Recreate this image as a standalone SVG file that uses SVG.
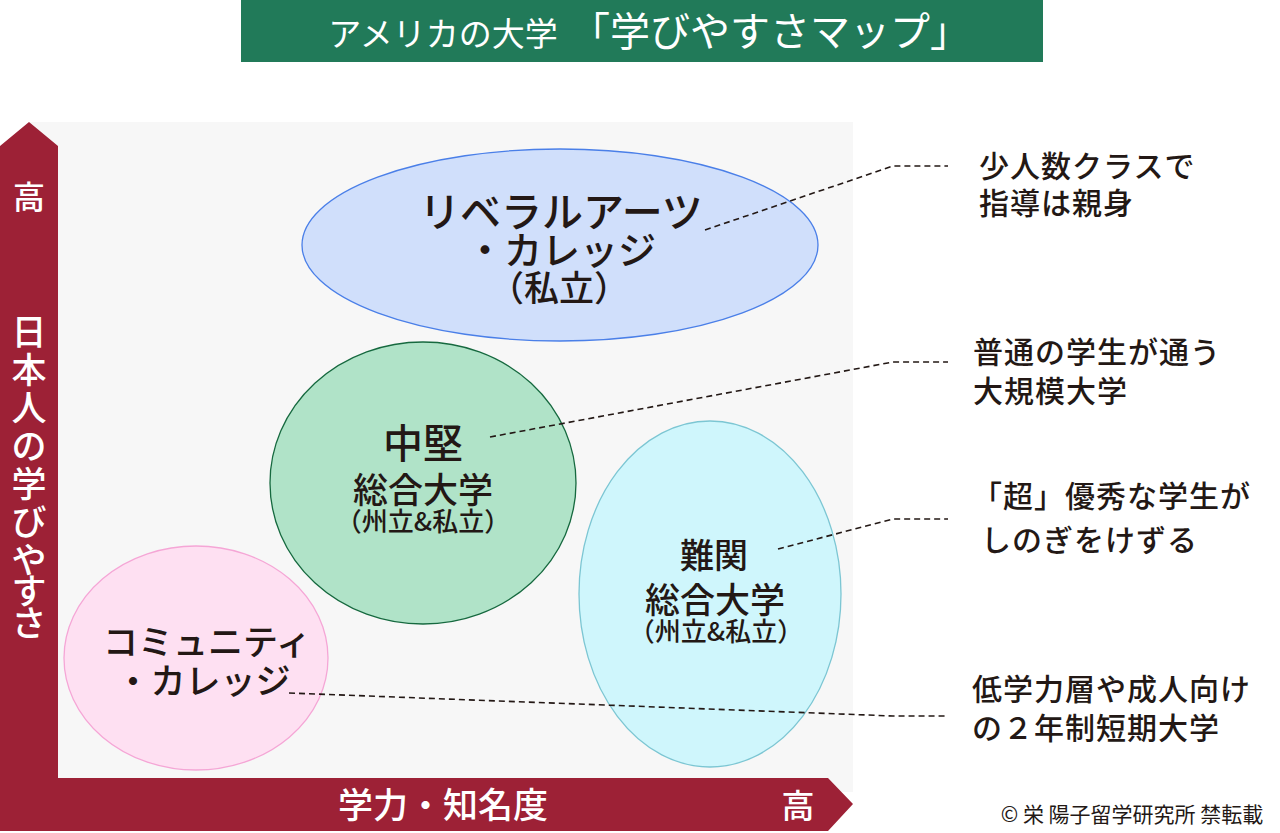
<svg xmlns="http://www.w3.org/2000/svg" width="1280" height="833" viewBox="0 0 1280 833">
<style>
text{font-family:"Noto Sans CJK JP","Noto Sans",sans-serif;fill:#231815;text-anchor:middle;font-weight:500}
.l{text-anchor:start;font-size:30px;letter-spacing:1px}
.c{fill:none;stroke:#231815;stroke-width:1.6;stroke-dasharray:6 4}
.w{fill:#fff}
</style>
<rect width="1280" height="833" fill="#fff"/>
<rect x="241" y="0" width="802" height="62" fill="#217a59"/>
<text x="443" y="46" font-size="33" class="w" style="font-weight:400">アメリカの大学</text>
<text x="770" y="46" font-size="40" class="w" style="font-weight:400">「学びやすさマップ」</text>
<rect x="30" y="122" width="823" height="670" fill="#f7f7f7"/>
<g id="axes">
<path d="M0 793V146L29 122L58 146V778H828L853 804L828 831H0Z" fill="#9d2136"/>
<text x="29" y="209" font-size="32" class="w">高</text>
<text x="29" y="345" font-size="35" class="w">日</text>
<text x="29" y="383" font-size="35" class="w">本</text>
<text x="29" y="421" font-size="35" class="w">人</text>
<text x="29" y="459" font-size="35" class="w">の</text>
<text x="29" y="497" font-size="35" class="w">学</text>
<text x="29" y="535" font-size="35" class="w">び</text>
<text x="29" y="573" font-size="35" class="w">や</text>
<text x="29" y="604" font-size="35" class="w">す</text>
<text x="29" y="636" font-size="35" class="w">さ</text>
<text x="443" y="818" font-size="35" class="w">学力・知名度</text>
<text x="798" y="818" font-size="33" class="w">高</text>
</g>
<g id="liberal">
<ellipse cx="560" cy="245" rx="258" ry="96" fill="#d0dffb" stroke="#4a7fe8" stroke-width="1.3"/>
<text x="561" y="227" font-size="41">リベラルアーツ</text>
<text x="561" y="264" font-size="38">・カレッジ</text>
<text x="559" y="301" font-size="35">（私立）</text>
</g>
<g id="chuken">
<ellipse cx="423" cy="483" rx="153" ry="141" fill="#b0e3c8" stroke="#16693f" stroke-width="1.3"/>
<text x="423" y="458" font-size="40">中堅</text>
<text x="423" y="503" font-size="35">総合大学</text>
<text x="423" y="531" font-size="26">（州立&amp;私立）</text>
</g>
<g id="nankan">
<ellipse cx="710" cy="594" rx="131" ry="173" fill="#cff6fc" stroke="#7cc6d3" stroke-width="1.3"/>
<text x="714" y="568" font-size="34">難関</text>
<text x="715" y="613" font-size="35">総合大学</text>
<text x="716" y="641" font-size="26">（州立&amp;私立）</text>
</g>
<g id="community">
<ellipse cx="196" cy="658" rx="132" ry="112" fill="#fee0f2" stroke="#f5a6d6" stroke-width="1.3"/>
<text x="207" y="655" font-size="35">コミュニティ</text>
<text x="203" y="694" font-size="35">・カレッジ</text>
</g>
<g id="connectors">
<path class="c" d="M705 230L893 166H948"/>
<path class="c" d="M490 437L893 362H948"/>
<path class="c" d="M778 549L893 519H948"/>
<path class="c" d="M289 693L893 716H948"/>
</g>
<g id="notes">
<text class="l" x="979" y="177">少人数クラスで</text>
<text class="l" x="979" y="214">指導は親身</text>
<text class="l" x="973" y="363">普通の学生が通う</text>
<text class="l" x="973" y="402">大規模大学</text>
<text class="l" x="972" y="507">「超」優秀な学生が</text>
<text class="l" x="981" y="551">しのぎをけずる</text>
<text class="l" x="972" y="700">低学力層や成人向け</text>
<text class="l" x="972" y="739">の２年制短期大学</text>
<text x="1132" y="822" font-size="21" style="font-weight:400">© 栄 陽子留学研究所 禁転載</text>
</g>
</svg>
